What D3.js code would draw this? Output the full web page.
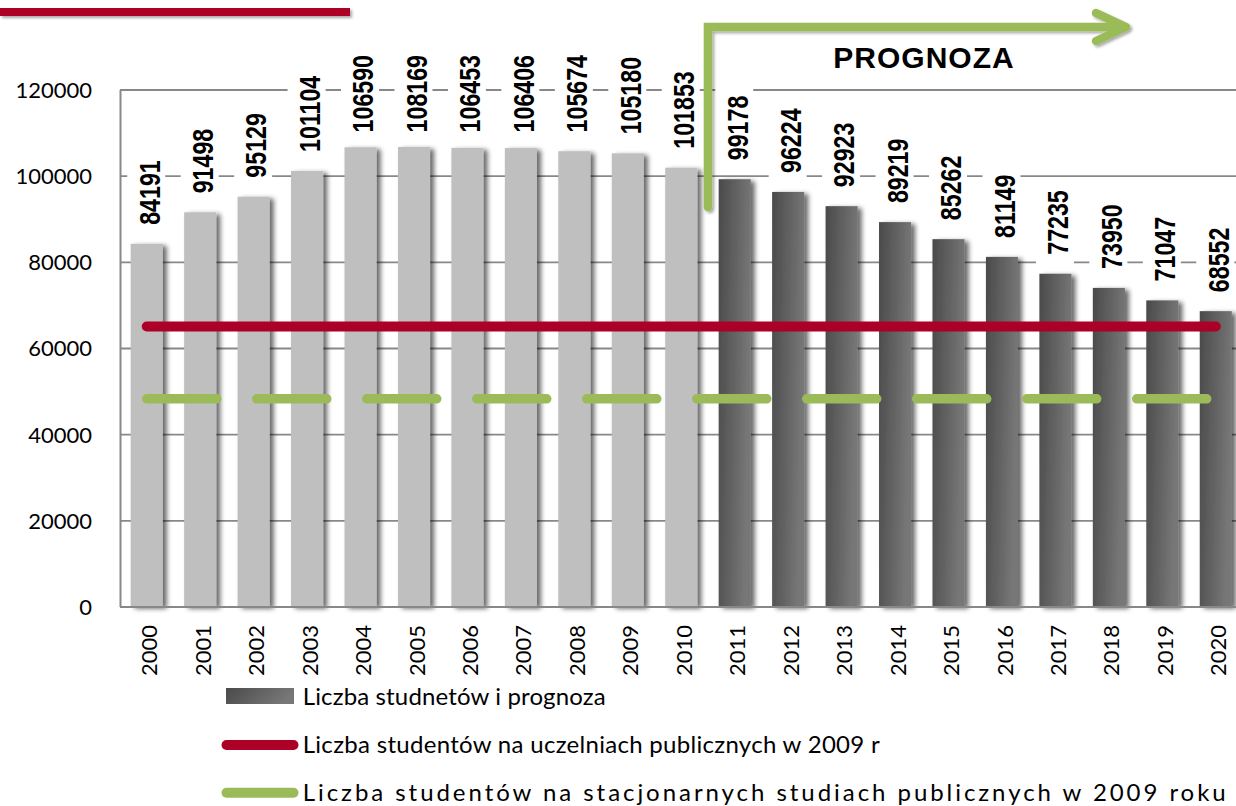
<!DOCTYPE html>
<html>
<head>
<meta charset="utf-8">
<script src="https://cdn.jsdelivr.net/npm/d3@7/dist/d3.min.js"></script>
<style>
  html, body { margin: 0; padding: 0; background: #fff; }
  svg { display: block; }
</style>
</head>
<body>
<svg id="chart" width="1236" height="806"></svg>
<script>
// ---------------- data ----------------
const years = ["2000","2001","2002","2003","2004","2005","2006","2007","2008","2009","2010",
               "2011","2012","2013","2014","2015","2016","2017","2018","2019","2020"];
// bar heights as drawn in the picture
const students = [84191, 91498, 95129, 101104, 106590, 106650, 106453, 106406, 105674, 105180, 101853,
                  99178, 96224, 92923, 89219, 85262, 81149, 77235, 73950, 71047, 68552];
// value labels as printed above the bars
const studentLabels = ["84191","91498","95129","101104","106590","108169","106453","106406","105674","105180","101853",
                       "99178","96224","92923","89219","85262","81149","77235","73950","71047","68552"];
const forecastStart = "2011";
const publicUniversities2009 = 65000;
const fullTimePublic2009 = 48200;
const yTicks = [0, 20000, 40000, 60000, 80000, 100000, 120000];
const legendLabels = [
  "Liczba studnetów i prognoza",
  "Liczba studentów na uczelniach publicznych w 2009 r",
  "Liczba studentów na stacjonarnych studiach publicznych w 2009 roku"
];
const forecastTitle = "PROGNOZA";

// ---------------- layout ----------------
const plot = { left: 120, right: 1242.5, top: 89.5, bottom: 606.5 };
const svg = d3.select("#chart");

const x = d3.scaleBand().domain(years).range([plot.left, plot.right]).paddingInner(0.4).paddingOuter(0.2);
const y = d3.scaleLinear().domain([0, 120000]).range([plot.bottom, plot.top]);

const RED = "#AD0026", GREEN = "#9BBB59", GRID = "#888888", LIGHT = "#BFBFBF";

// defs
const defs = svg.append("defs");
const grad = defs.append("linearGradient").attr("id", "darkGrad")
  .attr("x1", 0).attr("y1", 0).attr("x2", 1).attr("y2", 0.25);
grad.append("stop").attr("offset", "0%").attr("stop-color", "#4a4a4a");
grad.append("stop").attr("offset", "100%").attr("stop-color", "#777777");

function shadow(id, dx, dy, sd, op) {
  const f = defs.append("filter").attr("id", id)
    .attr("x", "-20%").attr("y", "-20%").attr("width", "160%").attr("height", "160%");
  f.append("feGaussianBlur").attr("in", "SourceAlpha").attr("stdDeviation", sd).attr("result", "b");
  f.append("feOffset").attr("in", "b").attr("dx", dx).attr("dy", dy).attr("result", "o");
  f.append("feComponentTransfer").attr("in", "o").attr("result", "t")
    .append("feFuncA").attr("type", "linear").attr("slope", op);
  const m = f.append("feMerge");
  m.append("feMergeNode").attr("in", "t");
  m.append("feMergeNode").attr("in", "SourceGraphic");
}
shadow("barShadow", 4, 2, 2.8, 0.6);
shadow("softShadow", 2, 2, 1.5, 0.35);

const clip = defs.append("clipPath").attr("id", "plotClip");
clip.append("rect").attr("x", plot.left).attr("y", 0).attr("width", 1236 - plot.left).attr("height", 806);

// ---------------- top decoration ----------------
svg.append("rect").attr("x", 0).attr("y", 8).attr("width", 350).attr("height", 8)
  .attr("fill", RED).attr("filter", "url(#softShadow)");

// ---------------- grid + y axis ----------------
const yAxis = svg.append("g").attr("transform", `translate(${plot.left},0)`)
  .call(d3.axisLeft(y).tickValues(yTicks).tickSizeInner(-(plot.right - plot.left)).tickSizeOuter(0).tickPadding(28)
    .tickFormat(d3.format("d")));
yAxis.select(".domain").attr("stroke", GRID).attr("stroke-width", 2);
yAxis.selectAll(".tick line").attr("stroke", GRID).attr("stroke-width", 1.8);
yAxis.selectAll(".tick text").attr("font-family", "Lato, 'Open Sans', sans-serif")
  .attr("font-size", 22).attr("fill", "#000").attr("dy", "0.36em");

// ---------------- bars ----------------
svg.append("g").attr("clip-path", "url(#plotClip)")
  .selectAll("rect").data(years).join("rect")
  .attr("x", d => x(d))
  .attr("y", (d, i) => y(students[i]))
  .attr("width", x.bandwidth())
  .attr("height", (d, i) => y(0) - y(students[i]))
  .attr("fill", d => (+d >= +forecastStart) ? "url(#darkGrad)" : LIGHT)
  .attr("filter", "url(#barShadow)");

// ---------------- x axis ----------------
const xAxis = svg.append("g").attr("transform", `translate(0,${plot.bottom})`)
  .call(d3.axisBottom(x).tickSize(0));
xAxis.select(".domain").attr("stroke", GRID).attr("stroke-width", 2);
xAxis.selectAll(".tick text")
  .attr("font-family", "Lato, 'Open Sans', sans-serif").attr("font-size", 22).attr("fill", "#000")
  .attr("transform", "rotate(-90)").attr("text-anchor", "end")
  .attr("x", -18.5).attr("y", 0).attr("dy", "0.48em");

// ---------------- data labels ----------------
const labelG = svg.append("g").attr("clip-path", "url(#plotClip)");
const squeeze = 0.8;
years.forEach((yr, i) => {
  const cx = x(yr) + x.bandwidth() / 2;
  const g = labelG.append("g");
  const box = g.append("rect").attr("fill", "#fff");
  const t = g.append("text").text(studentLabels[i])
    .attr("font-family", "'Liberation Sans', Arial, sans-serif").attr("font-weight", "bold")
    .attr("font-size", 29).attr("fill", "#000")
    .attr("transform", `scale(${squeeze},1)`).attr("y", 12.8);
  const len = t.node().getComputedTextLength() * squeeze;
  let start = y(students[i]) - 19;
  if (start - len < 55) start = 55 + len;
  g.attr("transform", `translate(${cx},${start}) rotate(-90)`);
  box.attr("x", -12).attr("y", -19.5).attr("width", len + 24).attr("height", 38);
});

// ---------------- reference lines ----------------
const x0 = x(years[0]) + x.bandwidth() / 2;
const x1 = x(years[years.length - 1]) + x.bandwidth() / 2;
svg.append("line").attr("x1", x0).attr("x2", x1)
  .attr("y1", y(publicUniversities2009)).attr("y2", y(publicUniversities2009))
  .attr("stroke", RED).attr("stroke-width", 10).attr("stroke-linecap", "round");
svg.append("line").attr("x1", x0).attr("x2", x1)
  .attr("y1", y(fullTimePublic2009)).attr("y2", y(fullTimePublic2009))
  .attr("stroke", GREEN).attr("stroke-width", 9.5).attr("stroke-linecap", "round")
  .attr("stroke-dasharray", "70,40");

// ---------------- forecast arrow ----------------
const ax = x(forecastStart) - x.step() * x.paddingInner() / 2;
const arrow = svg.append("g").attr("filter", "url(#softShadow)")
  .attr("fill", "none").attr("stroke", GREEN).attr("stroke-width", 8.5);
arrow.append("path").attr("d", `M${ax},207 V27 H1124`).attr("stroke-linecap", "round").attr("stroke-linejoin", "miter");
arrow.append("path").attr("d", `M1096,13 L1126,27 L1096,41`).attr("stroke-linecap", "round").attr("stroke-linejoin", "round");

svg.append("text").text(forecastTitle)
  .attr("x", 924).attr("y", 68).attr("text-anchor", "middle")
  .attr("font-family", "'Liberation Sans', Arial, sans-serif").attr("font-weight", "bold")
  .attr("font-size", 30).attr("letter-spacing", 1).attr("fill", "#000");

// ---------------- legend ----------------
const legendTextX = 302.7;
const legendWidths = [303, 577, 923];
const legendRows = [705, 753.3, 800.7];
const lg = svg.append("g");
lg.append("rect").attr("x", 226).attr("y", 688).attr("width", 68).attr("height", 16).attr("fill", "url(#darkGrad)");
lg.append("line").attr("x1", 226.5).attr("x2", 293.5).attr("y1", 745).attr("y2", 745)
  .attr("stroke", RED).attr("stroke-width", 10).attr("stroke-linecap", "round");
lg.append("line").attr("x1", 226.5).attr("x2", 293.5).attr("y1", 792.7).attr("y2", 792.7)
  .attr("stroke", GREEN).attr("stroke-width", 10).attr("stroke-linecap", "round");
legendLabels.forEach((lab, i) => {
  lg.append("text").text(lab).attr("x", legendTextX).attr("y", legendRows[i])
    .attr("font-family", "Lato, 'Open Sans', sans-serif").attr("font-size", 24).attr("fill", "#000")
    .attr("textLength", legendWidths[i]).attr("lengthAdjust", "spacing");
});
</script>
</body>
</html>
